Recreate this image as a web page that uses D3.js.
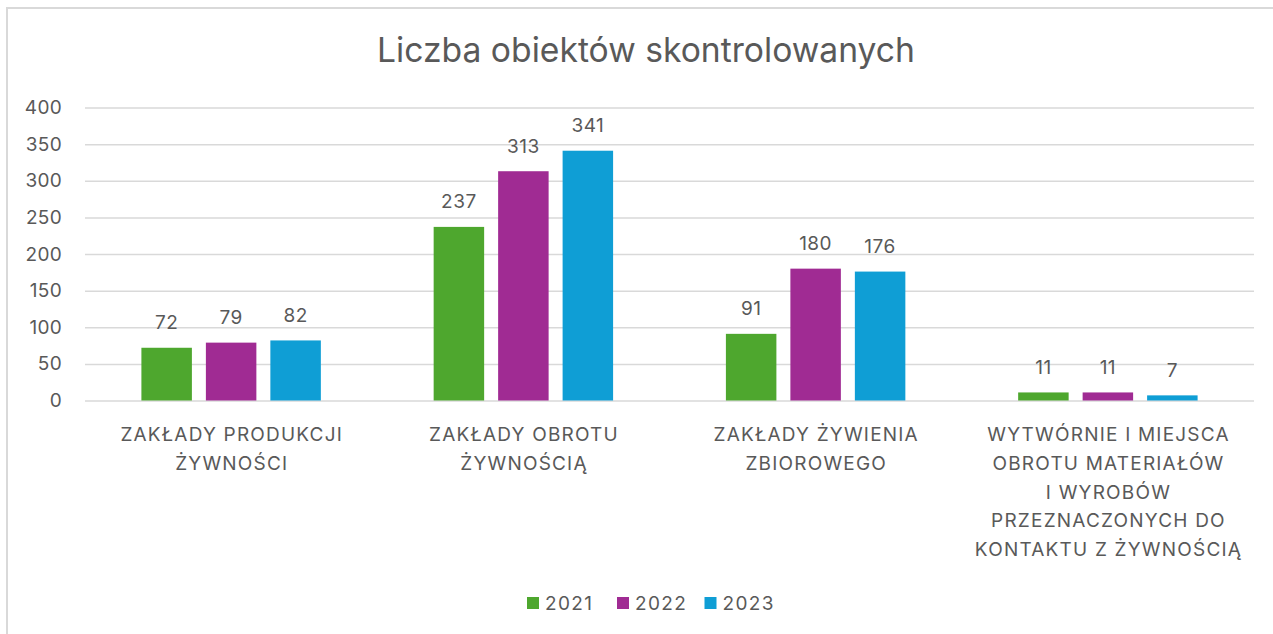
<!DOCTYPE html>
<html>
<head>
<meta charset="utf-8">
<script src="https://cdn.jsdelivr.net/npm/d3@7"></script>
<style>
  html, body { margin: 0; padding: 0; background: #fff; }
  svg { display: block; }
  text { font-family: Inter, "Open Sans", "Liberation Sans", sans-serif; fill: #595959; }
</style>
</head>
<body>
<svg id="chart" width="1273" height="634"></svg>
<script>
const title = "Liczba obiektów skontrolowanych";
const categories = [
  ["ZAKŁADY PRODUKCJI", "ŻYWNOŚCI"],
  ["ZAKŁADY OBROTU", "ŻYWNOŚCIĄ"],
  ["ZAKŁADY ŻYWIENIA", "ZBIOROWEGO"],
  ["WYTWÓRNIE I MIEJSCA", "OBROTU MATERIAŁÓW", "I WYROBÓW", "PRZEZNACZONYCH DO", "KONTAKTU Z ŻYWNOŚCIĄ"]
];
const seriesNames = ["2021", "2022", "2023"];
const values2021 = [72, 237, 91, 11];
const values2022 = [79, 313, 180, 11];
const values2023 = [82, 341, 176, 7];
const seriesColors = ["#4EA72E", "#A02B93", "#0F9ED5"];
const yTicks = [0, 50, 100, 150, 200, 250, 300, 350, 400];

const seriesValues = [values2021, values2022, values2023];
const catKeys = categories.map((c, i) => i);

const svg = d3.select("#chart");

// outer border
svg.append("rect")
  .attr("x", 7).attr("y", 8)
  .attr("width", 1290).attr("height", 640)
  .attr("fill", "#fff")
  .attr("stroke", "#d9d9d9").attr("stroke-width", 2);

const plot = { left: 85, right: 1254, top: 107.5, bottom: 400.5 };

const y = d3.scaleLinear().domain([0, 400]).range([plot.bottom, plot.top]);
const x0 = d3.scaleBand().domain(catKeys).range([plot.left, plot.right]).padding(0);
const groupW = x0.bandwidth() * 0.614;
const x1 = d3.scaleBand().domain(seriesNames)
  .range([(x0.bandwidth() - groupW) / 2, (x0.bandwidth() + groupW) / 2])
  .paddingInner(0.217).paddingOuter(0);

// title
const t = svg.append("text")
  .attr("x", 646).attr("y", 62)
  .attr("text-anchor", "middle")
  .style("font-size", "30px")
  .text(title);
const tw = t.node().getComputedTextLength();
t.style("font-size", (30 * 538 / tw).toFixed(2) + "px");

// y axis gridlines + labels
const yAxis = d3.axisLeft(y).tickValues(yTicks).tickSize(-(plot.right - plot.left)).tickPadding(23);
const gy = svg.append("g").attr("transform", `translate(${plot.left},0)`).call(yAxis);
gy.select(".domain").remove();
gy.selectAll(".tick line").attr("stroke", "#d9d9d9").attr("stroke-width", 1.5);
gy.selectAll(".tick text")
  .attr("fill", "#595959")
  .style("font-family", "Inter, 'Open Sans', sans-serif")
  .style("font-size", "19px")
  .style("letter-spacing", "0.3px");

// bars
const groups = svg.append("g").selectAll("g")
  .data(catKeys)
  .join("g")
  .attr("transform", d => `translate(${x0(d)},0)`);

groups.selectAll("rect")
  .data(ci => seriesNames.map((s, si) => ({ s, si, v: seriesValues[si][ci] })))
  .join("rect")
  .attr("x", d => x1(d.s))
  .attr("width", x1.bandwidth())
  .attr("y", d => y(d.v))
  .attr("height", d => y(0) - y(d.v))
  .attr("fill", d => seriesColors[d.si]);

groups.selectAll("text.val")
  .data(ci => seriesNames.map((s, si) => ({ s, si, v: seriesValues[si][ci] })))
  .join("text")
  .attr("class", "val")
  .attr("x", d => x1(d.s) + x1.bandwidth() / 2)
  .attr("y", d => y(d.v) - 18.5)
  .attr("text-anchor", "middle")
  .style("font-size", "19px")
  .style("letter-spacing", "0.5px")
  .text(d => d.v);

// category labels
const xAxis = d3.axisBottom(x0).tickSize(0).tickFormat(() => "");
const gx = svg.append("g").attr("transform", `translate(0,${plot.bottom})`).call(xAxis);
gx.select(".domain").remove();
gx.selectAll(".tick").each(function(ci) {
  const tx = d3.select(this).select("text")
    .attr("y", 0).attr("dy", null)
    .attr("fill", "#595959")
    .style("font-family", "Inter, 'Open Sans', sans-serif")
    .style("font-size", "19px")
    .style("letter-spacing", "1.2px");
  tx.selectAll("tspan")
    .data(categories[ci])
    .join("tspan")
    .attr("x", 0.6)
    .attr("y", (d, i) => 40.5 + i * 28.75)
    .text(d => d);
});

// legend
const legendItems = [
  { name: seriesNames[0], color: seriesColors[0], x: 527 },
  { name: seriesNames[1], color: seriesColors[1], x: 617 },
  { name: seriesNames[2], color: seriesColors[2], x: 704.5 }
];
const lg = svg.append("g");
legendItems.forEach(it => {
  lg.append("rect").attr("x", it.x).attr("y", 597).attr("width", 12).attr("height", 12).attr("fill", it.color);
  lg.append("text").attr("x", it.x + 18).attr("y", 609.5)
    .style("font-size", "19px").style("letter-spacing", "1.4px").text(it.name);
});
</script>
</body>
</html>
